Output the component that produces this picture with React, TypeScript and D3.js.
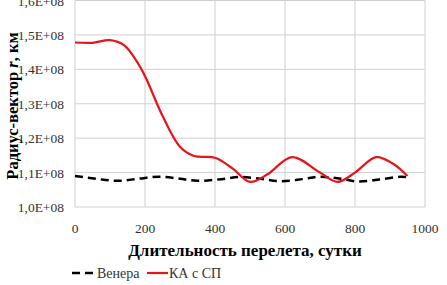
import React, { useEffect, useRef } from 'react';
import * as d3 from 'd3';

const WIDTH = 447;
const HEIGHT = 285;
const FONT = "'Liberation Serif', 'Tinos', 'Times New Roman', serif";

// time of flight, days
const venusDays = [0, 60, 120, 180, 240, 300, 350, 410, 470, 530, 590, 650, 700, 760, 810, 870, 930, 950];
const venusR = [1.09e8, 1.082e8, 1.076e8, 1.082e8, 1.088e8, 1.082e8, 1.076e8, 1.08e8, 1.087e8, 1.082e8, 1.075e8, 1.081e8, 1.088e8, 1.082e8, 1.074e8, 1.08e8, 1.088e8, 1.087e8];

const craftDays = [0, 50, 100, 140, 190, 250, 300, 340, 400, 450, 500, 550, 620, 700, 750, 800, 860, 910, 950];
const craftR = [1.478e8, 1.477e8, 1.485e8, 1.47e8, 1.40e8, 1.265e8, 1.175e8, 1.148e8, 1.143e8, 1.112e8, 1.073e8, 1.095e8, 1.145e8, 1.1e8, 1.073e8, 1.1e8, 1.145e8, 1.125e8, 1.09e8];

const xTicks = [0, 200, 400, 600, 800, 1000];
const yTicks = [1.0e8, 1.1e8, 1.2e8, 1.3e8, 1.4e8, 1.5e8, 1.6e8];
const yTickLabels = ['1,0E+08', '1,1E+08', '1,2E+08', '1,3E+08', '1,4E+08', '1,5E+08', '1,6E+08'];

export default function App() {
  const svgRef = useRef<SVGSVGElement>(null);

  // force the serif face on every label
  useEffect(() => {
    d3.select(svgRef.current).selectAll('text').style('font-family', FONT, 'important');
  }, []);

  const x = d3.scaleLinear().domain([0, 1000]).range([75, 425]);
  const y = d3.scaleLinear().domain([1.0e8, 1.6e8]).range([207, 0.5]);

  const line = d3.line<[number, number]>()
    .x(d => x(d[0]))
    .y(d => y(d[1]))
    .curve(d3.curveCatmullRom.alpha(0.5));

  const venus = venusDays.map((d, i) => [d, venusR[i]] as [number, number]);
  const craft = craftDays.map((d, i) => [d, craftR[i]] as [number, number]);

  return (
    <svg
      ref={svgRef}
      width={WIDTH}
      height={HEIGHT}
      style={{ position: 'absolute', left: 0, top: 0, background: '#fff' }}
    >
      <style>{`text { font-family: ${FONT} !important; }`}</style>
      <rect width={WIDTH} height={HEIGHT} fill="#fff" />
      {/* grid */}
      <g stroke="#d0d0d0" strokeWidth={1}>
        {yTicks.map(t => (
          <line key={'y' + t} x1={x(0)} x2={x(1000)} y1={y(t)} y2={y(t)} />
        ))}
        {xTicks.map(t => (
          <line key={'x' + t} x1={x(t)} x2={x(t)} y1={y(1.6e8)} y2={y(1.0e8)} />
        ))}
      </g>
      {/* tick labels */}
      <g fill="#333" fontSize={13.5}>
        {yTicks.map((t, i) => (
          <text key={t} x={64} y={y(t) + 5} textAnchor="end">{yTickLabels[i]}</text>
        ))}
        {xTicks.map(t => (
          <text key={t} x={x(t)} y={233} textAnchor="middle">{t}</text>
        ))}
      </g>
      {/* series */}
      <path d={line(venus) || ''} fill="none" stroke="#000" strokeWidth={2.5} strokeDasharray="8,5" />
      <path d={line(craft) || ''} fill="none" stroke="#e8141b" strokeWidth={2.2} />
      {/* axis titles */}
      <text x={245} y={256} textAnchor="middle" fontSize={17} fontWeight="bold" fill="#000">
        Длительность перелета, сутки
      </text>
      <text
        transform={`translate(18,${106}) rotate(-90)`}
        textAnchor="middle"
        fontSize={16.5}
        fontWeight="bold"
        fill="#000"
      >
        Радиус-вектор <tspan fontStyle="italic">r</tspan>, км
      </text>
      {/* legend */}
      <g fill="#333" fontSize={14}>
        <line x1={72} x2={96} y1={273} y2={273} stroke="#000" strokeWidth={2.5} strokeDasharray="8,5" />
        <text x={97} y={278}>Венера</text>
        <line x1={147} x2={168} y1={273} y2={273} stroke="#e8141b" strokeWidth={2.2} />
        <text x={169} y={278}>КА с СП</text>
      </g>
    </svg>
  );
}
